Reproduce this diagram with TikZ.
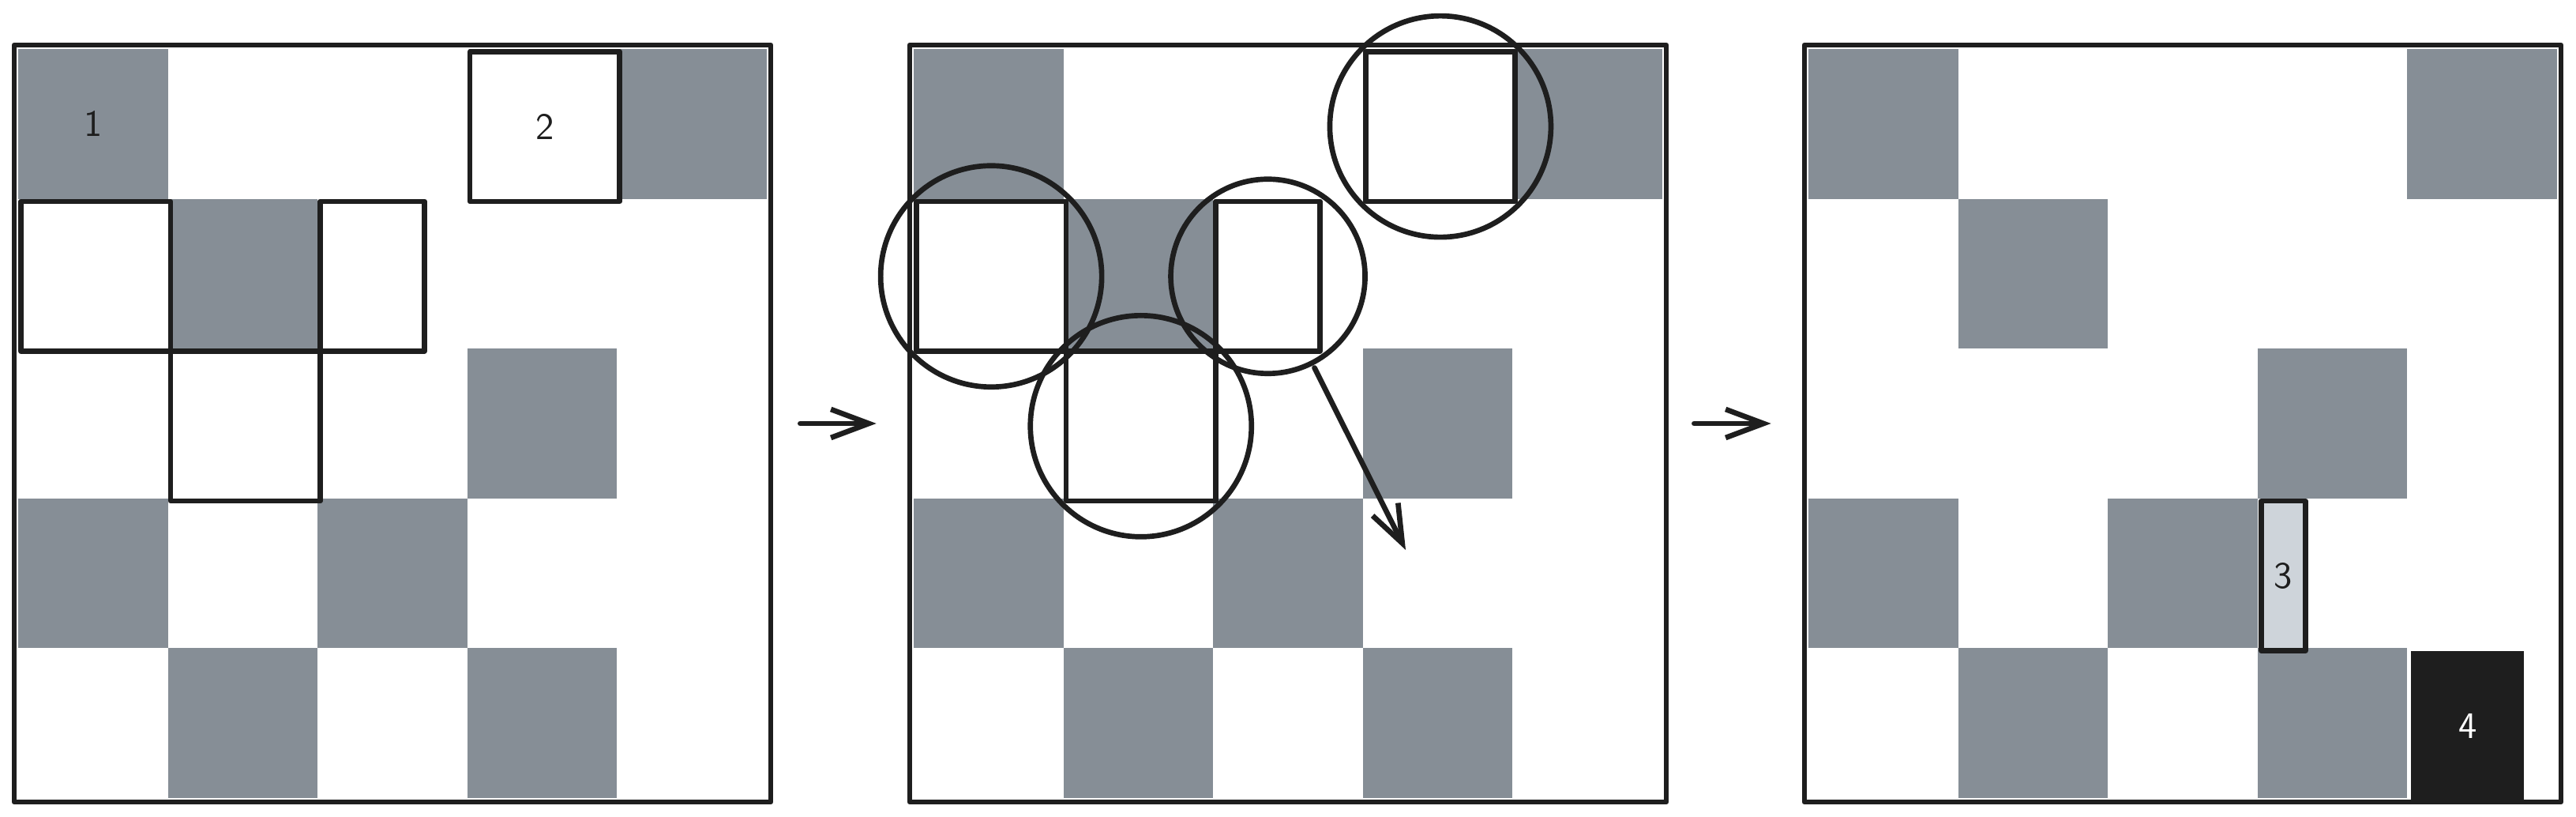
\documentclass[tikz,border=0pt]{standalone}
\usetikzlibrary{arrows.meta}
\definecolor{ink}{HTML}{1E1E1E}
\definecolor{tile}{HTML}{868E96}
\definecolor{lighttile}{HTML}{CED4DA}
\newcommand\cellsz{1.896}
\newcommand\tagfont{\sffamily\fontsize{13.5}{16}\selectfont}

\begin{document}
\begin{tikzpicture}[x=1cm,y=-1cm,line width=1.9pt,line cap=round,line join=round,
	frame/.style={draw=ink,minimum size=9.58cm,inner sep=0pt},
	box/.style={draw=ink,text=ink,minimum width=1.896cm,minimum height=1.896cm,inner sep=0pt,anchor=north west,font=\tagfont},
	ring/.style={draw=ink,circle,inner sep=0pt,minimum size=2.8cm},
	tag/.style={font=\tagfont,text=ink},
	move/.style={draw=ink,-{Straight Barb[length=4.8mm,width=3.6mm]}}]

	\useasboundingbox (0,0) rectangle (32.62,10.34);

	% the three boards
	\foreach \ox [count=\k] in {0.23,11.57,22.90} {
		\foreach \c/\r in {0/0,4/0,1/1,3/2,0/3,2/3,1/4,3/4}
			\fill[tile] ({\ox+\c*\cellsz},{0.62+\r*\cellsz}) rectangle ++(\cellsz,\cellsz);
		\node[frame] (p\k) at ({\ox+4.74},5.36) {};
	}

	% board 1
	\node[tag] (n1) at (1.178,1.568) {1};
	\node[box] (a2) at (5.918,0.62) {2};
	\node[box] (a3) at (0.23,2.516) {};
	\node[box,minimum width=1.32cm] (a4) at (4.022,2.516) {};
	\node[box] (a5) at (2.126,4.412) {};

	% board 2
	\node[box] (b2) at (17.258,0.62) {};
	\node[box] (b3) at (11.57,2.516) {};
	\node[box,minimum width=1.32cm] (b4) at (15.362,2.516) {};
	\node[box] (b5) at (13.466,4.412) {};
	\node[ring] (r2) at (b2) {};
	\node[ring] (r3) at (b3) {};
	\node[ring,minimum size=2.46cm] (r4) at (b4) {};
	\node[ring] (r5) at (b5) {};
	\coordinate (drop) at (17.80,6.96);
	\draw[move,shorten <=1pt] (r4.-63) -- (drop);

	% board 3
	\node[box,minimum width=0.56cm,fill=lighttile] (c3) at (28.60,6.308) {3};
	\node[box,minimum width=1.43cm,draw=none,fill=ink,text=white] (c4) at (30.50,8.204) {4};

	\draw[move,shorten <=0.34cm,shorten >=0.39cm] (p1) -- (p2);
	\draw[move,shorten <=0.32cm,shorten >=0.39cm] (p2) -- (p3);
\end{tikzpicture}
\end{document}
